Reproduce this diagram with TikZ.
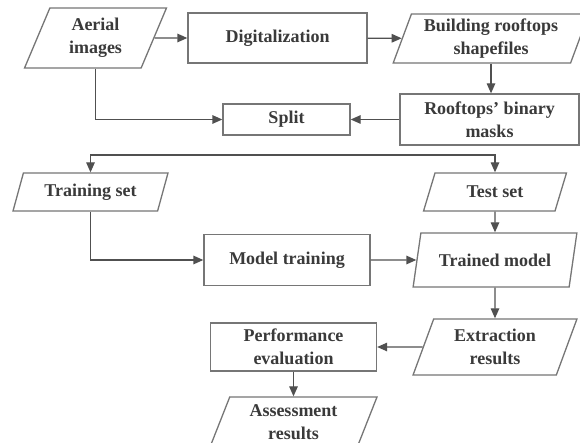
\documentclass[tikz,border=0pt]{standalone}
\usepackage{fontspec}
\setmainfont{Liberation Serif}
\usetikzlibrary{shapes.geometric,arrows.meta}
\definecolor{edge}{HTML}{767676}
\definecolor{ink}{HTML}{3A3A3A}
\definecolor{wire}{HTML}{505050}
\tikzset{
  base/.style={draw=edge, line width=1.3pt, text=ink, align=center, inner sep=2pt,
    font=\bfseries\fontsize{18}{23}\selectfont},
  para/.style={base, trapezium, trapezium left angle=70, trapezium right angle=110,
    trapezium stretches=true},
  arr/.style={draw=wire, line width=1.3pt, -{Triangle[length=10pt,width=8.5pt]}},
  dblarr/.style={draw=wire, line width=1.3pt, {Triangle[length=10pt,width=8.5pt]}-{Triangle[length=10pt,width=8.5pt]}}
}
\begin{document}
\begin{tikzpicture}[x=1pt,y=-1pt]
\useasboundingbox (0,0) rectangle (580,443);
\clip (0,0) rectangle (580,443);
\fill[white] (0,0) rectangle (580,443);
% nodes
\node[para, minimum width=143pt, minimum height=60pt] (aerial) at (95.5,38) {Aerial\\images};
\node[base, minimum width=179pt, minimum height=50pt] (digit) at (277.5,38) {Digitalization};
\node[para, minimum width=196pt, minimum height=49pt] (build) at (491,38.5) {Building rooftops\\shapefiles};
\node[base, minimum width=179pt, minimum height=51pt] (masks) at (489.5,119.5) {Rooftops' binary\\masks};
\node[base, minimum width=127pt, minimum height=31pt] (split) at (286.5,119.5) {Split};
\node[para, minimum width=155pt, minimum height=38pt] (train) at (90.5,192) {Training set};
\node[para, minimum width=143pt, minimum height=38pt] (test) at (495,192) {Test set};
\node[base, minimum width=166pt, minimum height=51pt] (mtrain) at (287,260) {Model training};
\node[para, minimum width=164pt, minimum height=54pt] (tmodel) at (495,260) {Trained model};
\node[para, minimum width=164pt, minimum height=56pt] (extr) at (495,347) {Extraction\\results};
\node[base, minimum width=166pt, minimum height=48pt] (perf) at (293.5,347) {Performance\\evaluation};
\node[para, minimum width=167pt, minimum height=50pt] (assess) at (293.5,422) {Assessment\\results};
\coordinate (bar) at (0,155);
% connectors
\draw[arr] (aerial) -- (digit);
\draw[arr] (digit) -- (build);
\draw[arr] (build.south) -- (build.south |- masks.north);
\draw[arr] (aerial.south) |- (split.west);
\draw[arr] (masks) -- (split);
\draw[dblarr] (train.north) -- (train.north |- bar) -| (test.north);
\draw[arr] (test) -- (tmodel);
\draw[arr] (train.south) |- (mtrain.west);
\draw[arr] (mtrain) -- (tmodel);
\draw[arr] (tmodel) -- (extr);
\draw[arr] (extr) -- (perf);
\draw[arr] (perf) -- (assess);
\end{tikzpicture}
\end{document}
